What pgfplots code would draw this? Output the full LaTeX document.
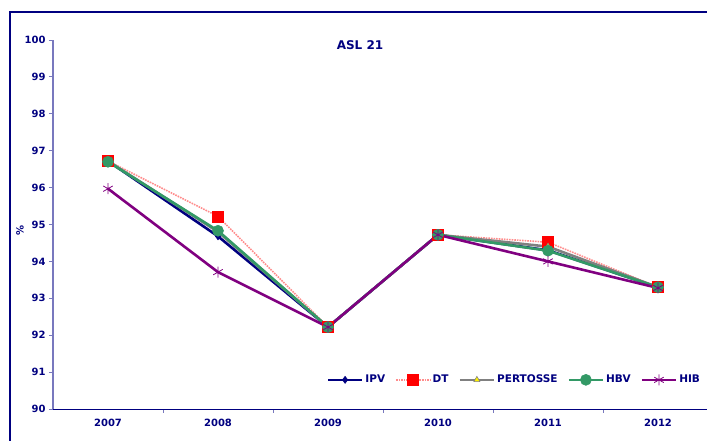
\documentclass[border=0pt]{standalone}
\usepackage{fontspec}
\setmainfont{DejaVu Sans}
\usepackage{pgfplots}
\pgfplotsset{compat=1.18}
\usetikzlibrary{plotmarks}

\definecolor{navytxt}{RGB}{0,0,128}
\definecolor{yaxis}{RGB}{120,120,190}
\definecolor{ipv}{RGB}{0,0,128}
\definecolor{dtline}{RGB}{255,140,140}
\definecolor{pert}{RGB}{128,128,128}
\definecolor{hbv}{RGB}{51,153,102}
\definecolor{hib}{RGB}{128,0,128}

\begin{document}
\begin{tikzpicture}[x=1pt,y=1pt]
\path[use as bounding box] (0,0) rectangle (707,441);
\begin{scope}
\clip (0,0) rectangle (707,441);
% outer frame
\draw[navytxt, line width=1.2pt] (10,-20) -- (10,429) -- (707,429);

\begin{axis}[
    at={(53pt,32pt)}, anchor=south west,
    scale only axis,
    width=660pt, height=369pt,
    xmin=-0.5, xmax=5.5,
    ymin=90, ymax=100,
    ytick={90,91,...,100},
    xtick={0,...,5},
    xticklabels={2007,2008,2009,2010,2011,2012},
    minor xtick={0.5,1.5,2.5,3.5,4.5},
    axis x line*=bottom,
    axis y line*=left,
    x axis line style={-, navytxt, line width=0.8pt},
    y axis line style={-, yaxis, line width=1.6pt},
    tick align=outside,
    major x tick style={draw=none},
    minor x tick style={yaxis, line width=0.8pt},
    minor tick length=4pt,
    major y tick style={yaxis, line width=0.8pt},
    major tick length=4pt,
    tick label style={font=\bfseries\fontsize{10}{12}\selectfont, text=navytxt},
    /pgf/number format/assume math mode=true,
    xticklabel style={yshift=-3pt},
    clip=false,
    legend columns=5,
    legend style={at={(0.41,0.079)}, anchor=west, draw=none, fill=none,
        font=\bfseries\fontsize{10.5}{12}\selectfont, text=navytxt,
        /tikz/every even column/.append style={column sep=8pt}},
    legend image code/.code={
        \draw[#1, mark repeat=2, mark phase=2] plot coordinates {(0pt,0pt) (17pt,0pt) (34pt,0pt)};
    },
]
\addplot[ipv, line width=2.6pt, mark=diamond*, mark size=3.5pt, mark options={solid, fill=ipv, line width=0.6pt}]
  coordinates {(0,96.72) (1,94.68) (2,92.22) (3,94.72) (4,94.30) (5,93.30)};
\addlegendentry{IPV}
\addplot[dtline, line width=1.6pt, densely dotted, mark=square*, mark size=5.5pt, mark options={solid, draw=red, fill=red, line width=0.6pt}]
  coordinates {(0,96.72) (1,95.22) (2,92.22) (3,94.72) (4,94.52) (5,93.30)};
\addlegendentry{DT}
\addplot[pert, line width=2.6pt, mark=triangle*, mark size=3.5pt, mark options={solid, draw=pert, fill=yellow, line width=0.6pt}]
  coordinates {(0,96.72) (1,94.80) (2,92.22) (3,94.72) (4,94.40) (5,93.30)};
\addlegendentry{PERTOSSE}
\addplot[hbv, line width=2.6pt, mark=*, mark size=5.5pt, mark options={solid, fill=hbv, line width=0.6pt}]
  coordinates {(0,96.70) (1,94.83) (2,92.22) (3,94.72) (4,94.29) (5,93.30)};
\addlegendentry{HBV}
\addplot[hib, line width=2.6pt, mark=asterisk, mark size=5.5pt, mark options={solid, line width=0.8pt}]
  coordinates {(0,95.97) (1,93.71) (2,92.22) (3,94.72) (4,94.00) (5,93.28)};
\addlegendentry{HIB}
\end{axis}
\end{scope}

\node[navytxt, font=\bfseries\fontsize{12}{14}\selectfont] at (360,396) {ASL 21};
\node[navytxt, font=\bfseries\fontsize{10}{12}\selectfont, rotate=90] at (20,211) {\%};
\end{tikzpicture}
\end{document}
